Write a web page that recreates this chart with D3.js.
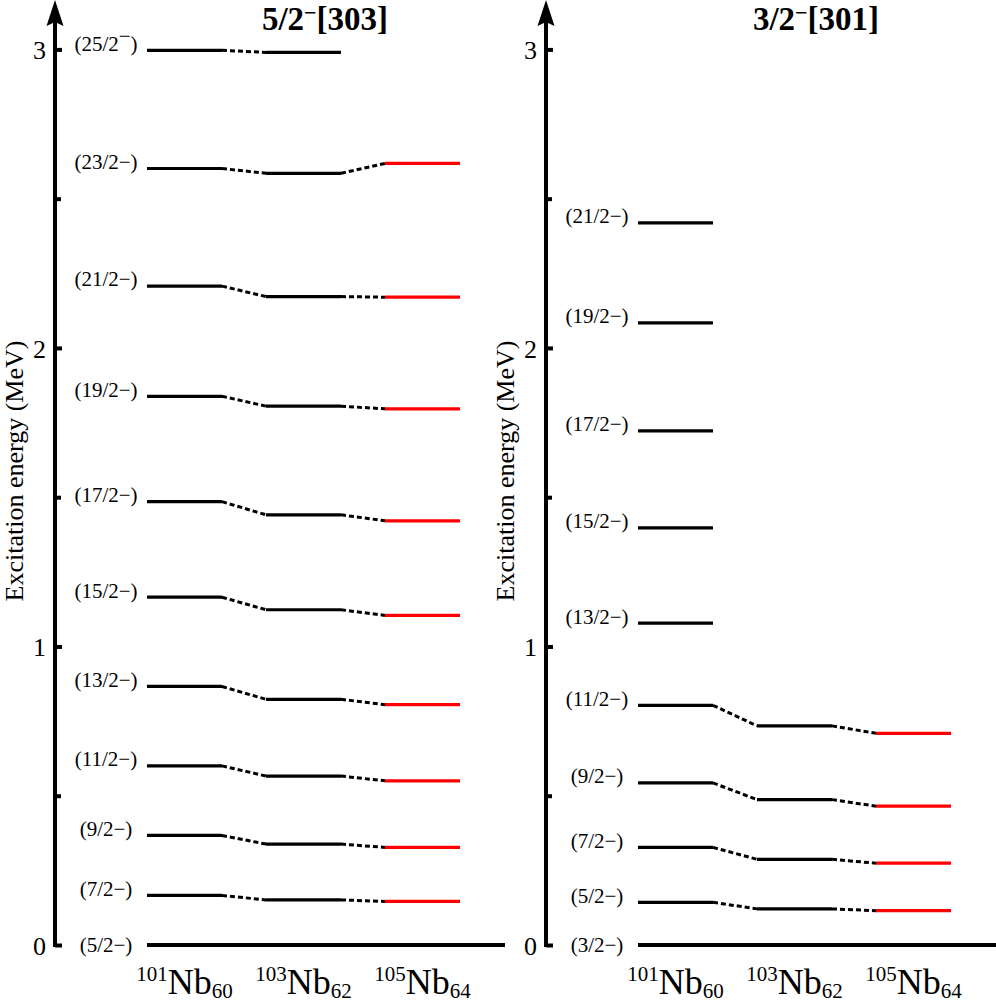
<!DOCTYPE html>
<html>
<head>
<meta charset="utf-8">
<script src="https://cdn.jsdelivr.net/npm/d3@7"></script>
<style>
  html, body { margin: 0; padding: 0; background: #fff; }
  svg { display: block; }
  text { font-family: "Liberation Serif", "Times New Roman", serif; fill: #000; }
</style>
</head>
<body>
<svg id="chart" width="996" height="1002"></svg>
<script>
// ---------- data ----------
const nuclei = ["101Nb", "103Nb", "105Nb"];
const massNumbers = ["101", "103", "105"];
const neutronNumbers = ["60", "62", "64"];
const yTicksMajor = [0, 1, 2, 3];
const yTicksMinor = [0.5, 1.5, 2.5];
const yAxisTitle = "Excitation energy (MeV)";

// band 5/2-[303]
const band1Title = ["5/2", "−", "[303]"];
const band1Spins = ["5/2", "7/2", "9/2", "11/2", "13/2", "15/2", "17/2", "19/2", "21/2", "23/2", "25/2"];
const band1Nb101 = [0, 0.166, 0.367, 0.600, 0.866, 1.165, 1.485, 1.838, 2.207, 2.601, 2.997];
const band1Nb103 = [0, 0.151, 0.338, 0.566, 0.823, 1.123, 1.441, 1.805, 2.172, 2.585, 2.990];
const band1Nb105 = [0, 0.146, 0.327, 0.550, 0.805, 1.104, 1.421, 1.796, 2.170, 2.618, null];

// band 3/2-[301]
const band2Title = ["3/2", "−", "[301]"];
const band2Spins = ["3/2", "5/2", "7/2", "9/2", "11/2", "13/2", "15/2", "17/2", "19/2", "21/2"];
const band2Nb101 = [0, 0.143, 0.327, 0.543, 0.803, 1.078, 1.397, 1.722, 2.084, 2.419];
const band2Nb103 = [0, 0.121, 0.287, 0.487, 0.734, null, null, null, null, null];
const band2Nb105 = [0, 0.115, 0.274, 0.465, 0.709, null, null, null, null, null];

const levelColors = ["#000000", "#000000", "#ff0000"];

// ---------- drawing ----------
const svg = d3.select("#chart");

const y = d3.scaleLinear().domain([0, 3]).range([945, 49.4]);

function drawPanel(cfg) {
  const g = svg.append("g");
  const x = d3.scaleBand().domain(nuclei).range(cfg.colRange)
    .paddingInner(44 / 119).paddingOuter(0);
  const bw = x.bandwidth();
  const series = cfg.series;

  // y axis line with arrow
  g.append("line")
    .attr("x1", cfg.axisX).attr("x2", cfg.axisX)
    .attr("y1", y(0) + 2).attr("y2", 22)
    .attr("stroke", "#000").attr("stroke-width", 4);
  g.append("path")
    .attr("d", `M${cfg.axisX},0 L${cfg.axisX + 8.5},26 L${cfg.axisX},22 L${cfg.axisX - 8.5},26 Z`)
    .attr("fill", "#000");

  // ticks
  const axMajor = d3.axisLeft(y).tickValues(yTicksMajor).tickSize(-7).tickPadding(9)
    .tickFormat(d3.format("d"));
  const gMaj = g.append("g").attr("transform", `translate(${cfg.axisX},0)`).call(axMajor);
  gMaj.select(".domain").remove();
  gMaj.attr("font-family", null);
  gMaj.selectAll(".tick line").attr("stroke", "#000").attr("stroke-width", 4);
  gMaj.selectAll(".tick text")
    .attr("font-size", 26).attr("dy", "0.36em");

  const axMinor = d3.axisLeft(y).tickValues(yTicksMinor).tickSize(-6).tickFormat("");
  const gMin = g.append("g").attr("transform", `translate(${cfg.axisX},0)`).call(axMinor);
  gMin.select(".domain").remove();
  gMin.selectAll(".tick line").attr("stroke", "#000").attr("stroke-width", 4);

  // axis title
  g.append("text")
    .attr("transform", `translate(${cfg.titleX},${471}) rotate(-90)`)
    .attr("text-anchor", "middle")
    .attr("font-size", 26)
    .text(yAxisTitle);

  // ground-state line (baseline)
  g.append("line")
    .attr("x1", x(nuclei[0])).attr("x2", cfg.groundEnd)
    .attr("y1", y(0)).attr("y2", y(0))
    .attr("stroke", "#000").attr("stroke-width", 4);

  // excited levels
  series.forEach((vals, k) => {
    const pts = vals.map((e, i) => ({ e, i })).filter(d => d.e !== null && d.e > 0);
    g.selectAll(null).data(pts).enter().append("line")
      .attr("x1", x(nuclei[k])).attr("x2", x(nuclei[k]) + bw)
      .attr("y1", d => y(d.e)).attr("y2", d => y(d.e))
      .attr("stroke", levelColors[k]).attr("stroke-width", 3.2);
  });

  // dotted connectors
  for (let k = 0; k < series.length - 1; k++) {
    const a = series[k], b = series[k + 1];
    const pairs = a.map((e, i) => ({ e1: e, e2: b[i] }))
      .filter(d => d.e1 !== null && d.e2 !== null && d.e1 > 0);
    g.selectAll(null).data(pairs).enter().append("line")
      .attr("x1", x(nuclei[k]) + bw).attr("x2", x(nuclei[k + 1]))
      .attr("y1", d => y(d.e1)).attr("y2", d => y(d.e2))
      .attr("stroke", "#000").attr("stroke-width", 3)
      .attr("stroke-dasharray", "5,3");
  }

  // spin labels
  const labs = cfg.spins.map((s, i) => ({ s, e: series[0][i], i }));
  const lt = g.selectAll(null).data(labs).enter().append("text")
    .attr("x", cfg.labelX)
    .attr("y", d => y(d.e) + (d.e > 0 ? -7 : 0))
    .attr("dy", "0.35em")
    .attr("text-anchor", "middle")
    .attr("font-size", 21);
  lt.each(function (d) {
    const t = d3.select(this);
    if (cfg.overlineLast && d.i === labs.length - 1) {
      t.append("tspan").text("(" + d.s);
      t.append("tspan").attr("dy", -8).text("−");
      t.append("tspan").attr("dy", 8).text(")");
    } else {
      t.text("(" + d.s + "−)");
    }
  });

  // nucleus labels
  nuclei.forEach((n, k) => {
    const t = g.append("text")
      .attr("x", x(n) + bw / 2).attr("y", 994)
      .attr("text-anchor", "middle");
    t.append("tspan").attr("font-size", 21).attr("dy", -13).text(massNumbers[k]);
    t.append("tspan").attr("font-size", 36).attr("dy", 13).text("Nb");
    t.append("tspan").attr("font-size", 21).attr("dy", 4).text(neutronNumbers[k]);
  });

  // band title
  const tt = g.append("text")
    .attr("x", cfg.bandTitleX).attr("y", 30)
    .attr("text-anchor", "middle")
    .attr("font-weight", "bold").attr("font-size", 33);
  tt.append("tspan").text(cfg.title[0]);
  tt.append("tspan").attr("font-size", 22).attr("dy", -10).text(cfg.title[1]);
  tt.append("tspan").attr("dy", 10).text(cfg.title[2]);
}

drawPanel({
  axisX: 55, titleX: 23, colRange: [147, 460], groundEnd: 505, labelX: 106,
  series: [band1Nb101, band1Nb103, band1Nb105], spins: band1Spins,
  title: band1Title, bandTitleX: 325, overlineLast: true
});
drawPanel({
  axisX: 546, titleX: 514, colRange: [638, 951], groundEnd: 996, labelX: 597,
  series: [band2Nb101, band2Nb103, band2Nb105], spins: band2Spins,
  title: band2Title, bandTitleX: 816, overlineLast: false
});
</script>
</body>
</html>
